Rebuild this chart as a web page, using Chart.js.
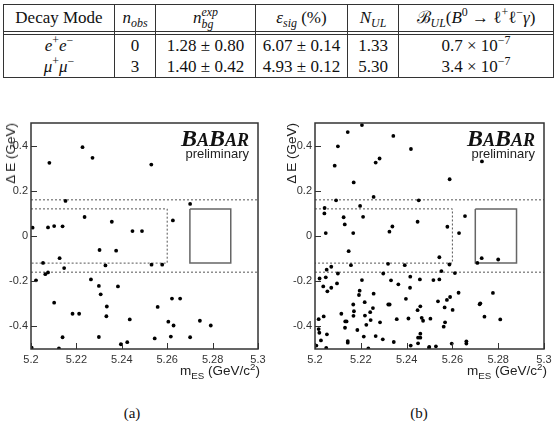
<!DOCTYPE html>
<html>
<head>
<meta charset="utf-8">
<script src="https://cdn.jsdelivr.net/npm/chart.js@4/dist/chart.umd.min.js"></script>
<style>
  body { margin: 0; background: #fff; }
  #page { position: relative; width: 558px; height: 421px; overflow: hidden; background: #fff; }
  canvas { position: absolute; top: 110px; }
  #tbl { position: absolute; left: 3px; top: 4px; border-collapse: collapse; table-layout: fixed;
         font-family: 'Liberation Serif', 'DejaVu Serif', serif; font-size: 17px; color: #111; }
  #tbl td { border-left: 1px solid #333; border-right: 1px solid #333; text-align: center;
            padding: 0; white-space: nowrap; line-height: 18px; }
  #tbl tr.hd td { height: 26px; border-top: 1px solid #333; border-bottom: 1px solid #333; }
  #tbl tr.gap td { height: 2px; line-height: 0; font-size: 0; border-bottom: 1px solid #333; }
  #tbl tr.r1 td { height: 21px; }
  #tbl tr.r2 td { height: 21px; border-bottom: 1px solid #333; }
  #tbl sup, #tbl sub { font-size: 0.7em; line-height: 0; }
  .st { display: inline-block; vertical-align: -0.45em; font-size: 0.7em; line-height: 1.05; text-align: left; }
  .st i { display: block; }
  .logo { position: absolute; top: 126px; font-family: 'Liberation Serif', serif; font-weight: bold;
          font-style: italic; line-height: 24px; color: #111; white-space: nowrap; }
  .logo .b { font-size: 24px; }
  .logo .s { font-size: 18px; }
  .prel { position: absolute; top: 146.5px; font-family: 'Liberation Sans', Arial, sans-serif;
          font-size: 13px; line-height: 13px; color: #222; }
  .xt { position: absolute; top: 364px; font-family: 'Liberation Sans', Arial, sans-serif;
        font-size: 13.5px; line-height: 14px; color: #222; white-space: nowrap; }
  .xt sub, .xt sup { font-size: 0.72em; line-height: 0; }
  .yt { position: absolute; top: 123px; font-family: 'Liberation Sans', Arial, sans-serif;
        font-size: 13.5px; line-height: 14px; color: #222; white-space: nowrap;
        writing-mode: vertical-rl; transform: rotate(180deg); }
  .cap { position: absolute; top: 404px; width: 40px; text-align: center; line-height: 18px;
         font-family: 'Liberation Serif', serif; font-size: 15px; color: #111; }
</style>
</head>
<body>
<div id="page">
  <table id="tbl">
    <colgroup>
      <col style="width:111px"><col style="width:41px"><col style="width:100px">
      <col style="width:92px"><col style="width:51px"><col style="width:155px">
    </colgroup>
    <tr class="hd">
      <td>Decay Mode</td>
      <td><i>n<sub>obs</sub></i></td>
      <td><i>n</i><span class="st"><i>exp</i><i>bg</i></span></td>
      <td><i>&epsilon;<sub>sig</sub></i> (%)</td>
      <td><i>N<sub>UL</sub></i></td>
      <td>&#x212C;<sub><i>UL</i></sub>(<i>B</i><sup>0</sup> &rarr; &#x2113;<sup>+</sup>&#x2113;<sup>&minus;</sup><i>&gamma;</i>)</td>
    </tr>
    <tr class="gap"><td></td><td></td><td></td><td></td><td></td><td></td></tr>
    <tr class="r1">
      <td><i>e</i><sup>+</sup><i>e</i><sup>&minus;</sup></td>
      <td>0</td>
      <td>1.28 &plusmn; 0.80</td>
      <td>6.07 &plusmn; 0.14</td>
      <td>1.33</td>
      <td>0.7 &times; 10<sup>&minus;7</sup></td>
    </tr>
    <tr class="r2">
      <td><i>&mu;</i><sup>+</sup><i>&mu;</i><sup>&minus;</sup></td>
      <td>3</td>
      <td>1.40 &plusmn; 0.42</td>
      <td>4.93 &plusmn; 0.12</td>
      <td>5.30</td>
      <td>3.4 &times; 10<sup>&minus;7</sup></td>
    </tr>
  </table>

  <canvas id="plotA" width="279" height="280" style="left:0px"></canvas>
  <canvas id="plotB" width="279" height="280" style="left:279px"></canvas>

  <div class="logo" style="right:309px"><span class="b">B</span><span class="s">A</span><span class="b">B</span><span class="s">AR</span></div>
  <div class="prel" style="right:309px">preliminary</div>
  <div class="logo" style="right:23px"><span class="b">B</span><span class="s">A</span><span class="b">B</span><span class="s">AR</span></div>
  <div class="prel" style="right:23px">preliminary</div>

  <div class="yt" style="left:4px">&Delta; E (GeV)</div>
  <div class="yt" style="left:284.5px">&Delta; E (GeV)</div>
  <div class="xt" style="right:298px">m<sub>ES</sub> (GeV/c<sup>2</sup>)</div>
  <div class="xt" style="right:11px">m<sub>ES</sub> (GeV/c<sup>2</sup>)</div>

  <div class="cap" style="left:112px">(a)</div>
  <div class="cap" style="left:399px">(b)</div>
</div>

<script>
// axis ranges and ticks
const mesRange = [5.2, 5.3];
const deRange = [-0.5, 0.5];
const mesTicks = [5.2, 5.22, 5.24, 5.26, 5.28, 5.3];
const deTicks = [-0.4, -0.2, 0, 0.2, 0.4];

// region boundaries
const sideLinesDE = [0.16, -0.16];
const gsbMes = [5.2, 5.26];
const gsbDE = [-0.12, 0.12];
const sigMes = [5.27, 5.288];
const sigDE = [-0.12, 0.12];

// (a) e+e- events
const eeMes = [5.2227,5.2271,5.2081,5.2530,5.2152,5.2701,5.2236,5.2625,5.2356,5.2007,
  5.2075,5.2102,5.2139,5.2447,5.2489,5.2302,5.2375,5.2126,5.2053,5.2146,
  5.2328,5.2531,5.2578,5.2063,5.2075,5.2022,5.2264,5.2299,5.2307,5.2383,
  5.2102,5.2183,5.2212,5.2334,5.2332,5.2435,5.2558,5.2621,5.2657,5.2605,
  5.2628,5.2744,5.2792,5.2139,5.2299,5.2545,5.2616,5.2701,5.2396,5.2424,
  5.2003,5.2123];
const eeDE = [0.393,0.346,0.324,0.316,0.155,0.142,0.084,0.069,0.063,0.037,
  0.038,0.044,0.043,0.022,0.022,-0.062,-0.065,-0.098,-0.119,-0.142,
  -0.130,-0.127,-0.127,-0.169,-0.161,-0.196,-0.192,-0.221,-0.258,-0.223,
  -0.295,-0.344,-0.344,-0.312,-0.355,-0.369,-0.314,-0.277,-0.277,-0.379,
  -0.396,-0.375,-0.396,-0.448,-0.447,-0.453,-0.445,-0.448,-0.479,-0.470,
  -0.494,-0.497];

// (b) mu+mu- events
const mmMes = [5.2205,5.2143,5.2342,5.2100,5.2419,5.2086,5.2282,5.2265,5.2729,5.2588,
  5.2169,5.2256,5.2092,5.2453,5.2197,5.2042,5.2041,5.2125,5.2210,5.2655,
  5.2130,5.2448,5.2578,5.2338,5.2325,5.2047,5.2167,5.2629,5.2147,5.2543,
  5.2157,5.2319,5.2392,5.2587,5.2709,5.2728,5.2800,5.2071,5.2051,5.2552,
  5.2100,5.2298,5.2611,5.2020,5.2047,5.2205,5.2332,5.2416,5.2458,5.2517,
  5.2543,5.2096,5.2364,5.2036,5.2071,5.2054,5.2415,5.2195,5.2192,5.2256,
  5.2627,5.2777,5.2397,5.2590,5.2576,5.2537,5.2217,5.2167,5.2320,5.2326,
  5.2722,5.2719,5.2253,5.2460,5.2566,5.2448,5.2601,5.2170,5.2115,5.2218,
  5.2241,5.2168,5.2740,5.2408,5.2357,5.2466,5.2504,5.2809,5.2016,5.2038,
  5.2132,5.2138,5.2284,5.2243,5.2568,5.2472,5.2224,5.2562,5.2131,5.2185,
  5.2016,5.2019,5.2052,5.2460,5.2460,5.2450,5.2213,5.2265,5.2296,5.2143,
  5.2143,5.2026,5.2344,5.2661,5.2661,5.2450,5.2597,5.2049,5.2006,5.2418,
  5.2528,5.2499,5.2498,5.2233];
const mmDE = [0.491,0.460,0.443,0.397,0.385,0.311,0.343,0.325,0.330,0.251,
  0.237,0.173,0.158,0.158,0.133,0.124,0.100,0.083,0.085,0.088,
  0.051,0.063,0.041,0.042,0.019,0.013,0.013,0.013,-0.067,-0.094,
  -0.129,-0.123,-0.129,-0.126,-0.119,-0.098,-0.104,-0.136,-0.149,-0.155,
  -0.166,-0.166,-0.164,-0.188,-0.183,-0.195,-0.196,-0.180,-0.192,-0.195,
  -0.192,-0.210,-0.214,-0.223,-0.229,-0.245,-0.229,-0.242,-0.261,-0.255,
  -0.251,-0.252,-0.278,-0.270,-0.283,-0.289,-0.293,-0.303,-0.303,-0.303,
  -0.298,-0.302,-0.319,-0.311,-0.316,-0.328,-0.327,-0.333,-0.344,-0.352,
  -0.337,-0.353,-0.357,-0.365,-0.368,-0.362,-0.366,-0.369,-0.368,-0.356,
  -0.378,-0.378,-0.382,-0.372,-0.382,-0.375,-0.393,-0.401,-0.406,-0.416,
  -0.412,-0.428,-0.435,-0.432,-0.450,-0.450,-0.445,-0.443,-0.457,-0.465,
  -0.472,-0.462,-0.469,-0.466,-0.476,-0.475,-0.476,-0.495,-0.485,-0.485,
  -0.488,-0.491,-0.494,-0.497];

// frame + inward ticks, ROOT style
const frameTicks = {
  id: 'frameTicks',
  afterDatasetsDraw(chart) {
    const ctx = chart.ctx, a = chart.chartArea;
    const xs = chart.scales.x, ys = chart.scales.y;
    ctx.save();
    ctx.strokeStyle = '#333';
    ctx.lineWidth = 1;
    ctx.beginPath();
    xs.ticks.forEach(t => {
      const px = Math.round(xs.getPixelForValue(t.value)) + 0.5;
      ctx.moveTo(px, a.bottom);
      ctx.lineTo(px, a.bottom - 6);
    });
    ys.ticks.forEach(t => {
      const py = Math.round(ys.getPixelForValue(t.value)) + 0.5;
      ctx.moveTo(a.left, py);
      ctx.lineTo(a.left + 6, py);
    });
    ctx.stroke();
    ctx.lineWidth = 1.5;
    ctx.strokeRect(a.left, a.top, a.right - a.left, a.bottom - a.top);
    ctx.restore();
  }
};

function pts(xs, ys) {
  return xs.map((x, i) => ({x: x, y: ys[i]}));
}

function lineSet(data, dashed) {
  return {
    data: data,
    showLine: true,
    pointRadius: 0,
    borderColor: dashed ? '#555' : '#666',
    borderWidth: dashed ? 1 : 1.5,
    borderDash: dashed ? [2, 2] : [],
    fill: false
  };
}

function makePlot(id, mes, de, yWidth, padRight) {
  const tickFont = {family: "'Liberation Sans', Arial, sans-serif", size: 11};
  new Chart(document.getElementById(id), {
    type: 'scatter',
    data: {
      datasets: [
        {
          data: pts(mes, de),
          pointRadius: 1.9,
          pointBorderWidth: 0,
          pointBackgroundColor: '#000'
        },
        lineSet(pts(mesRange, [sideLinesDE[0], sideLinesDE[0]]), true),
        lineSet(pts(mesRange, [sideLinesDE[1], sideLinesDE[1]]), true),
        lineSet(pts([gsbMes[0], gsbMes[1], gsbMes[1], gsbMes[0]],
                    [gsbDE[1], gsbDE[1], gsbDE[0], gsbDE[0]]), true),
        lineSet(pts([sigMes[0], sigMes[1], sigMes[1], sigMes[0], sigMes[0]],
                    [sigDE[1], sigDE[1], sigDE[0], sigDE[0], sigDE[1]]), false)
      ]
    },
    options: {
      responsive: false,
      animation: false,
      devicePixelRatio: 1,
      events: [],
      layout: {padding: {top: 13, right: padRight, left: 0, bottom: 0}},
      plugins: {legend: {display: false}, tooltip: {enabled: false}},
      scales: {
        x: {
          type: 'linear', min: mesRange[0], max: mesRange[1],
          grid: {display: false, drawTicks: false},
          border: {display: false},
          ticks: {font: tickFont, color: '#333', padding: 4, maxRotation: 0, autoSkip: false,
                  callback: v => String(+v.toFixed(2))},
          afterBuildTicks: s => { s.ticks = mesTicks.map(v => ({value: v})); },
          afterFit: s => { s.height = 41; }
        },
        y: {
          type: 'linear', min: deRange[0], max: deRange[1],
          grid: {display: false, drawTicks: false},
          border: {display: false},
          ticks: {font: tickFont, color: '#333', padding: 3, autoSkip: false,
                  callback: v => String(+v.toFixed(2))},
          afterBuildTicks: s => { s.ticks = deTicks.map(v => ({value: v})); },
          afterFit: s => { s.width = yWidth; }
        }
      }
    },
    plugins: [frameTicks]
  });
}

makePlot('plotA', eeMes, eeDE, 31, 21);
makePlot('plotB', mmMes, mmDE, 36, 14);
</script>
</body>
</html>
